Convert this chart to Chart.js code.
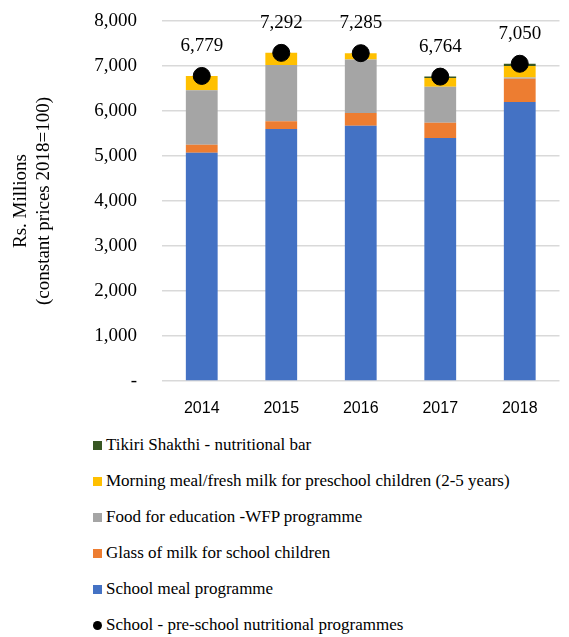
<!DOCTYPE html>
<html>
<head>
<meta charset="utf-8">
<script src="https://cdn.jsdelivr.net/npm/chart.js@4.4.0/dist/chart.umd.min.js"></script>
<style>
    body { margin: 0; background: #fff; }
    #wrap { position: relative; width: 569px; height: 637px; }
    #chartBox { position: absolute; left: 0; top: 0; width: 569px; height: 425px; }
    #legend { position: absolute; left: 93px; top: 427px; font-family: "Liberation Serif", "Times New Roman", serif; font-size: 17px; color: #000; }
    .legend-item { height: 36px; display: flex; align-items: center; }
    .legend-box { width: 9px; height: 9px; margin-right: 4px; }
    .legend-dot { width: 9px; height: 9px; border-radius: 50%; margin-right: 4px; }
</style>
</head>
<body>
<div id="wrap">
    <div id="chartBox"><canvas id="nutritionChart"></canvas></div>
    <div id="legend"></div>
</div>
<script>
// Years and programme spending (Rs. Millions, constant 2018 prices)
const years = ['2014', '2015', '2016', '2017', '2018'];

const schoolMeal = [5070, 5600, 5670, 5400, 6200];
const glassOfMilk = [180, 175, 285, 340, 515];
const foodForEducation = [1210, 1250, 1190, 800, 30];
const morningMeal = [319, 267, 140, 195, 255];
const tikiriShakthi = [0, 0, 0, 29, 50];
const totalProgrammes = [6779, 7292, 7285, 6764, 7050];

const yTicks = [0, 1000, 2000, 3000, 4000, 5000, 6000, 7000, 8000];

const serif = '"Liberation Serif", "Times New Roman", serif';

// Draws the total value above each black dot
const totalLabels = {
    id: 'totalLabels',
    afterDatasetsDraw(chart) {
        const ctx = chart.ctx;
        const meta = chart.getDatasetMeta(5);
        ctx.save();
        ctx.font = '19px ' + serif;
        ctx.fillStyle = '#000';
        ctx.textAlign = 'center';
        ctx.textBaseline = 'middle';
        meta.data.forEach((pt, i) => {
            ctx.fillText(totalProgrammes[i].toLocaleString('en-US'), pt.x, pt.y - 30);
        });
        ctx.restore();
    }
};

const ctx = document.getElementById('nutritionChart').getContext('2d');
const chart = new Chart(ctx, {
    type: 'bar',
    data: {
        labels: years,
        datasets: [
            { label: 'School meal programme', data: schoolMeal, backgroundColor: '#4472C4', order: 1 },
            { label: 'Glass of milk for school children', data: glassOfMilk, backgroundColor: '#ED7D31', order: 1 },
            { label: 'Food for education -WFP programme', data: foodForEducation, backgroundColor: '#A5A5A5', order: 1 },
            { label: 'Morning meal/fresh milk for preschool children (2-5 years)', data: morningMeal, backgroundColor: '#FFC000', order: 1 },
            { label: 'Tikiri Shakthi - nutritional bar', data: tikiriShakthi, backgroundColor: '#385723', order: 1 },
            {
                type: 'line',
                label: 'School - pre-school nutritional programmes',
                data: totalProgrammes,
                stack: 'total',
                showLine: false,
                pointRadius: 8.5,
                pointBackgroundColor: '#000',
                pointBorderColor: '#000',
                order: 0
            }
        ]
    },
    options: {
        responsive: true,
        maintainAspectRatio: false,
        animation: false,
        layout: { padding: { top: 21, right: 0, left: 0, bottom: 0 } },
        plugins: {
            legend: { display: false },
            tooltip: { enabled: false }
        },
        datasets: {
            bar: { categoryPercentage: 1, barPercentage: 0.4 }
        },
        scales: {
            x: {
                stacked: true,
                grid: { display: false, drawTicks: false },
                border: { display: false },
                ticks: {
                    padding: 18,
                    color: '#000',
                    font: { family: '"Liberation Sans", Arial, sans-serif', size: 16 }
                },
                afterFit(scale) { scale.height = 44; }
            },
            y: {
                stacked: true,
                min: 0,
                max: 8000,
                afterBuildTicks(scale) {
                    scale.ticks = yTicks.map(v => ({ value: v }));
                },
                grid: { color: '#D9D9D9', lineWidth: 1.5, drawTicks: false },
                border: { display: false },
                ticks: {
                    padding: 25,
                    color: '#000',
                    font: { family: serif, size: 19 },
                    callback: v => v === 0 ? '-' : v.toLocaleString('en-US')
                },
                title: {
                    display: true,
                    text: ['Rs. Millions', '(constant prices 2018=100)'],
                    color: '#000',
                    font: { family: serif, size: 19, lineHeight: 1.2 },
                    padding: { top: 10, bottom: 0 }
                },
                afterFit(scale) {
                    // tick padding is horizontal only; keep the plot top at the layout padding
                    scale.width = 162;
                    scale.paddingTop = 0;
                    scale.paddingBottom = 0;
                }
            }
        }
    },
    plugins: [totalLabels]
});

// Vertical legend, top entry is the top of the stack
const legend = document.getElementById('legend');
const legendOrder = [4, 3, 2, 1, 0, 5];
legendOrder.forEach(i => {
    const ds = chart.data.datasets[i];
    const item = document.createElement('div');
    item.className = 'legend-item';
    const mark = document.createElement('span');
    if (ds.type === 'line') {
        mark.className = 'legend-dot';
        mark.style.background = '#000';
    } else {
        mark.className = 'legend-box';
        mark.style.background = ds.backgroundColor;
    }
    const text = document.createElement('span');
    text.textContent = ds.label;
    item.appendChild(mark);
    item.appendChild(text);
    legend.appendChild(item);
});
</script>
</body>
</html>
